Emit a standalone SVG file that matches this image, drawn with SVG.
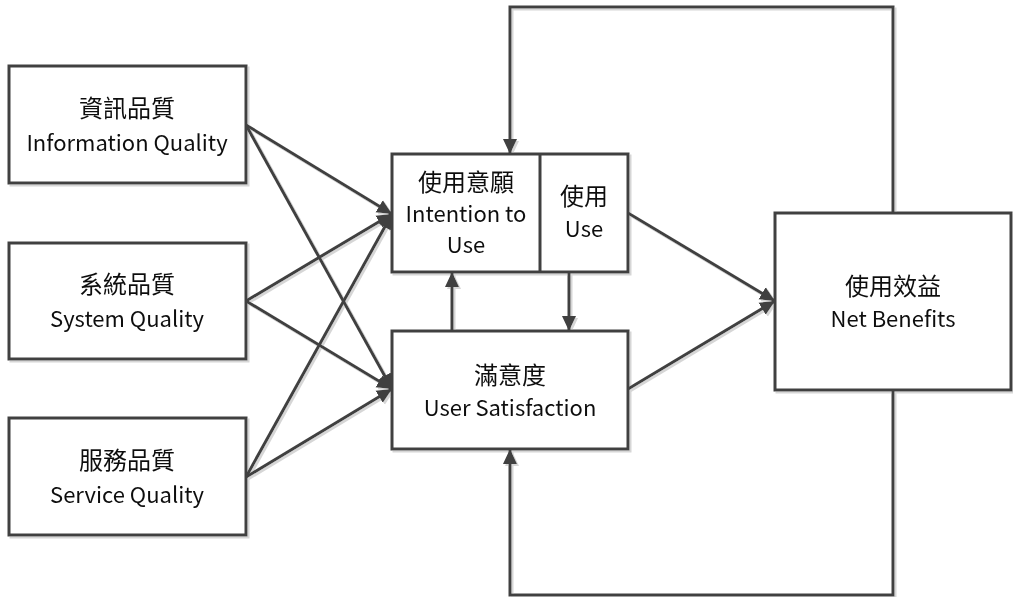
<svg xmlns="http://www.w3.org/2000/svg" width="1013" height="597" viewBox="0 0 1013 597">
  <style>
    .box { fill: #ffffff; stroke: #404040; stroke-width: 3; }
    .edge { fill: none; stroke: #404040; stroke-width: 3; }
    .arrow { marker-end: url(#head); }
    text { font-family: "Noto Sans CJK TC", "Liberation Sans", sans-serif; font-size: 24px; fill: #111111; text-anchor: middle; }
    .lat { font-size: 22px; }
  </style>
  <defs>
    <marker id="head" markerUnits="userSpaceOnUse" markerWidth="16" markerHeight="16" viewBox="0 0 16 16" refX="15" refY="8" orient="auto">
      <path d="M0,1 L15,8 L0,15 Z" fill="#404040"/>
    </marker>
    <!-- soft offset shadow under every shape and line -->
    <filter id="shadow" filterUnits="userSpaceOnUse" x="0" y="0" width="1013" height="597">
      <feFlood flood-color="#d6d6d6"/>
      <feComposite in2="SourceAlpha" operator="in"/>
      <feOffset dx="2" dy="2" result="s"/>
      <feMerge>
        <feMergeNode in="s"/>
        <feMergeNode in="SourceGraphic"/>
      </feMerge>
    </filter>
  </defs>

  <rect width="1013" height="597" fill="#ffffff"/>

  <g filter="url(#shadow)">
    <g id="connectors">
      <!-- quality dimensions to intention / satisfaction -->
      <line class="edge arrow" x1="246" y1="125" x2="392" y2="214"/>
      <line class="edge arrow" x1="246" y1="125" x2="392" y2="389"/>
      <line class="edge arrow" x1="246" y1="301" x2="392" y2="214"/>
      <line class="edge arrow" x1="246" y1="301" x2="392" y2="389"/>
      <line class="edge arrow" x1="246" y1="477" x2="392" y2="214"/>
      <line class="edge arrow" x1="246" y1="477" x2="392" y2="389"/>
      <!-- between intention/use and satisfaction -->
      <line class="edge arrow" x1="452" y1="331" x2="452" y2="272"/>
      <line class="edge arrow" x1="569" y1="272" x2="569" y2="331"/>
      <!-- into net benefits -->
      <line class="edge arrow" x1="628" y1="213" x2="775" y2="301"/>
      <line class="edge arrow" x1="628" y1="389" x2="775" y2="301"/>
      <!-- feedback loops -->
      <polyline class="edge arrow" points="893,213 893,7 510,7 510,154"/>
      <polyline class="edge arrow" points="893,390 893,595 510,595 510,449"/>
    </g>

    <g id="info-quality">
      <rect class="box" x="9" y="66" width="237" height="117"/>
      <text x="127" y="117">資訊品質</text>
      <text class="lat" x="127" y="151">Information Quality</text>
    </g>

    <g id="system-quality">
      <rect class="box" x="9" y="243" width="237" height="116"/>
      <text x="127" y="293">系統品質</text>
      <text class="lat" x="127" y="327">System Quality</text>
    </g>

    <g id="service-quality">
      <rect class="box" x="9" y="418" width="237" height="117"/>
      <text x="127" y="469">服務品質</text>
      <text class="lat" x="127" y="503">Service Quality</text>
    </g>

    <g id="intention-use">
      <rect class="box" x="392" y="154" width="236" height="118"/>
      <line class="edge" x1="540" y1="154" x2="540" y2="272"/>
      <text x="466" y="191">使用意願</text>
      <text class="lat" x="466" y="222">Intention to</text>
      <text class="lat" x="466" y="253">Use</text>
      <text x="584" y="205">使用</text>
      <text class="lat" x="584" y="237">Use</text>
    </g>

    <g id="user-satisfaction">
      <rect class="box" x="392" y="331" width="236" height="118"/>
      <text x="510" y="384">滿意度</text>
      <text class="lat" x="510" y="416">User Satisfaction</text>
    </g>

    <g id="net-benefits">
      <rect class="box" x="775" y="213" width="236" height="177"/>
      <text x="893" y="295">使用效益</text>
      <text class="lat" x="893" y="327">Net Benefits</text>
    </g>
  </g>
</svg>
